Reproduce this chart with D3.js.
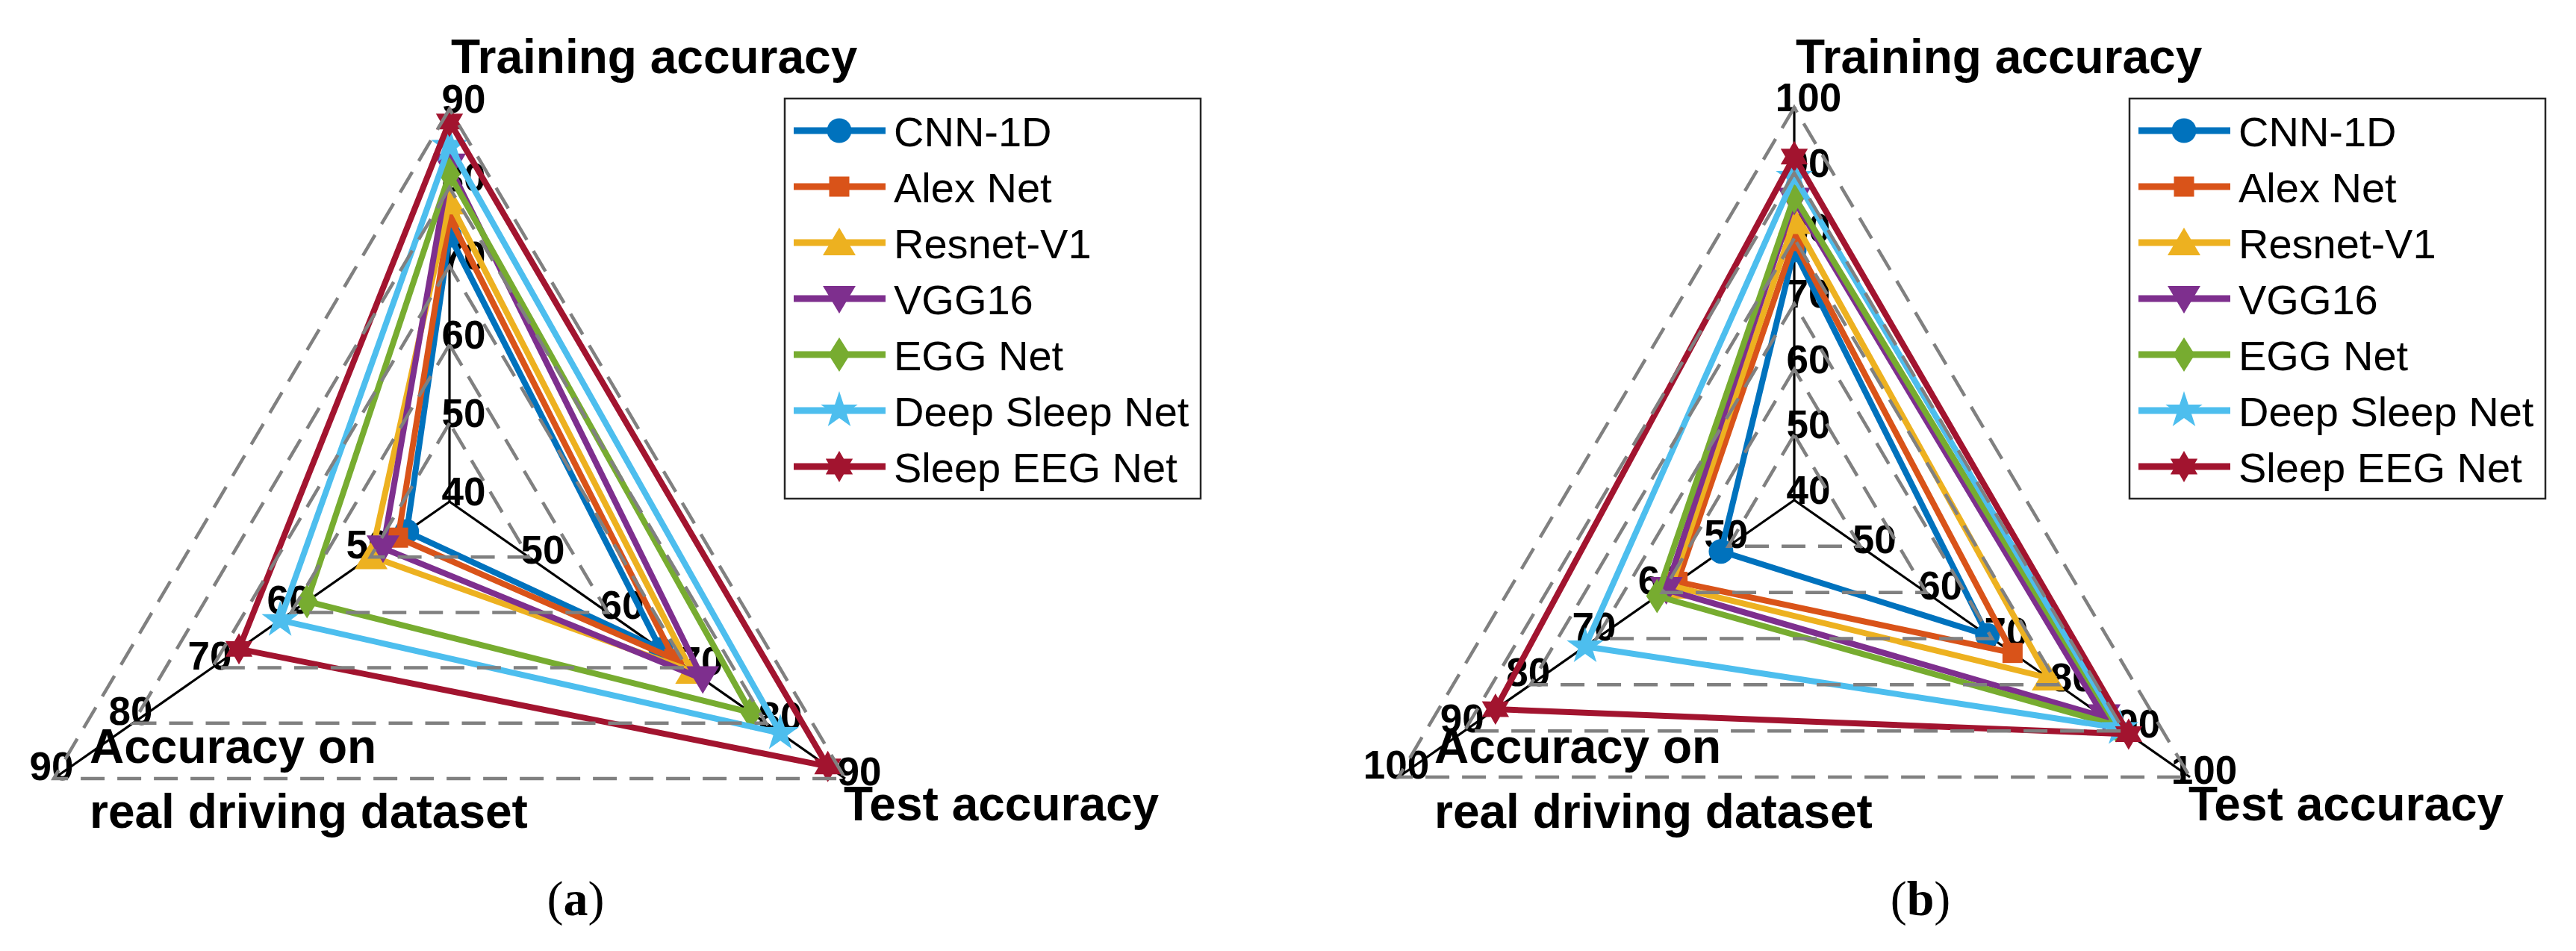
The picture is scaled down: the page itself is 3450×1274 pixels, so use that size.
<!DOCTYPE html>
<html>
<head>
<meta charset="utf-8">
<title>Accuracy radar charts</title>
<script src="https://cdn.jsdelivr.net/npm/d3@7"></script>
<style>
body { margin: 0; background: white; }
svg { display: block; }
.tick { font-family: "Liberation Sans", Arial, sans-serif; font-weight: bold; font-size: 53px; fill: black; }
.title { font-family: "Liberation Sans", Arial, sans-serif; font-weight: bold; font-size: 64px; fill: black; }
.legend text { font-family: "Liberation Sans", Arial, sans-serif; font-size: 56px; fill: black; }
.caption { font-family: "Liberation Serif", "Times New Roman", serif; font-size: 66px; fill: black; }
</style>
</head>
<body>
<div id="chart"></div>
<script>
// data
var models = ["CNN-1D", "Alex Net", "Resnet-V1", "VGG16", "EGG Net", "Deep Sleep Net", "Sleep EEG Net"];
var colors = ["#0072BD", "#D95319", "#EDB120", "#7E2F8E", "#77AC30", "#4DBEEE", "#A2142F"];
var markers = ["circle", "square", "triangle", "triangleDown", "diamond", "star", "hexagram"];

// per model: [training, real driving, test]
var valuesA = [
    [73.9, 45.4, 66.7],
    [76.2, 46.5, 68.4],
    [78.2, 49.9, 70.6],
    [82.7, 48.4, 72.0],
    [81.7, 58.0, 78.1],
    [85.3, 61.4, 81.8],
    [88.4, 66.6, 87.8]
];
var valuesB = [
    [78.2, 51.1, 69.3],
    [79.6, 57.7, 73.1],
    [82.6, 58.6, 78.5],
    [85.8, 59.4, 87.0],
    [86.4, 60.8, 88.8],
    [89.4, 71.7, 89.4],
    [92.5, 85.3, 90.7]
];
var ticksA = [40, 50, 60, 70, 80, 90];
var ticksB = [40, 50, 60, 70, 80, 90, 100];
var captions = ["a", "b"];

var width = 3450, height = 1274;

// axis end points relative to the centre (top, bottom left, bottom right)
var axisEnds = [[0, -526], [-530, 371], [530, 371]];
// where the tick label sits relative to its point, per axis
var tickShift = [[19, 5], [-3, 2], [19, 9]];

var panels = [
    { cx: 602, cy: 672, values: valuesA, ticks: ticksA, caption: captions[0] },
    { cx: 2403, cy: 670, values: valuesB, ticks: ticksB, caption: captions[1] }
];

// marker shapes, fixed pixel sizes
function poly(ctx, pts) {
    ctx.moveTo(pts[0][0], pts[0][1]);
    for (var i = 1; i < pts.length; i++) ctx.lineTo(pts[i][0], pts[i][1]);
    ctx.closePath();
}
function starPts(n, R, r) {
    var pts = [];
    for (var i = 0; i < 2 * n; i++) {
        var a = -Math.PI / 2 + i * Math.PI / n, rr = i % 2 ? r : R;
        pts.push([rr * Math.cos(a), rr * Math.sin(a)]);
    }
    return pts;
}
var shapes = {
    circle: { draw: function(ctx) { ctx.moveTo(16.5, 0); ctx.arc(0, 0, 16.5, 0, 2 * Math.PI); } },
    square: { draw: function(ctx) { poly(ctx, [[-13.5, -13.5], [13.5, -13.5], [13.5, 13.5], [-13.5, 13.5]]); } },
    triangle: { draw: function(ctx) { poly(ctx, [[0, -20], [22, 17], [-22, 17]]); } },
    triangleDown: { draw: function(ctx) { poly(ctx, [[0, 20], [22, -17], [-22, -17]]); } },
    diamond: { draw: function(ctx) { poly(ctx, [[0, -23], [14.5, 0], [0, 23], [-14.5, 0]]); } },
    star: { draw: function(ctx) { poly(ctx, starPts(5, 26, 10)); } },
    hexagram: { draw: function(ctx) { poly(ctx, starPts(6, 21, 12.1)); } }
};
function markerPath(name) { return d3.symbol().type(shapes[name])(); }

var svg = d3.select("#chart").append("svg")
    .attr("width", width).attr("height", height)
    .attr("viewBox", "0 0 " + width + " " + height);
svg.append("rect").attr("width", width).attr("height", height).attr("fill", "white");

panels.forEach(function(p) {
    var lo = p.ticks[0], hi = p.ticks[p.ticks.length - 1];
    var r = d3.scaleLinear().domain([lo, hi]).range([0, 1]);
    function pt(axis, v) {
        return [p.cx + axisEnds[axis][0] * r(v), p.cy + axisEnds[axis][1] * r(v)];
    }
    var g = svg.append("g");

    // tick labels (under everything else)
    var tg = g.append("g");
    [0, 1, 2].forEach(function(axis) {
        var tv = axis === 0 ? p.ticks : p.ticks.slice(1);
        tg.selectAll(null).data(tv).enter().append("text")
            .attr("class", "tick")
            .attr("text-anchor", "middle")
            .attr("x", function(d) { return pt(axis, d)[0] + tickShift[axis][0]; })
            .attr("y", function(d) { return pt(axis, d)[1] + tickShift[axis][1]; })
            .text(function(d) { return d; });
    });

    // black axis spokes
    g.append("g").selectAll("line").data([0, 1, 2]).enter().append("line")
        .attr("x1", p.cx).attr("y1", p.cy)
        .attr("x2", function(a) { return pt(a, hi)[0]; })
        .attr("y2", function(a) { return pt(a, hi)[1]; })
        .attr("stroke", "black").attr("stroke-width", 3.2);

    // series
    var line = d3.line().curve(d3.curveLinearClosed);
    var sg = g.append("g").selectAll("g").data(p.values).enter().append("g");
    sg.append("path")
        .attr("d", function(vals) { return line(vals.map(function(v, a) { return pt(a, v); })); })
        .attr("fill", "none")
        .attr("stroke", function(d, i) { return colors[i]; })
        .attr("stroke-width", 8);
    sg.each(function(vals, i) {
        d3.select(this).selectAll("path.m").data(vals).enter().append("path")
            .attr("class", "m")
            .attr("d", markerPath(markers[i]))
            .attr("transform", function(v, a) { return "translate(" + pt(a, v) + ")"; })
            .attr("fill", colors[i]);
    });

    // dashed web, one triangle per level
    g.append("g").selectAll("path").data(p.ticks.slice(1)).enter().append("path")
        .attr("d", function(v) { return line([pt(0, v), pt(1, v), pt(2, v)]); })
        .attr("fill", "none")
        .attr("stroke", "#808080").attr("stroke-width", 4.5)
        .attr("stroke-dasharray", "32,17");

    // axis titles
    g.append("text").attr("class", "title").attr("x", p.cx + 2).attr("y", 98).text("Training accuracy");
    g.append("text").attr("class", "title").attr("x", p.cx - 482).attr("y", 1022).text("Accuracy on");
    g.append("text").attr("class", "title").attr("x", p.cx - 482).attr("y", 1109).text("real driving dataset");
    g.append("text").attr("class", "title").attr("x", p.cx + 528).attr("y", 1099).text("Test accuracy");

    // legend
    var lx = p.cx + 449, ly = 132;
    var lg = g.append("g").attr("class", "legend");
    lg.append("rect").attr("x", lx).attr("y", ly).attr("width", 557).attr("height", 536)
        .attr("fill", "white").attr("stroke", "#262626").attr("stroke-width", 2.5);
    var row = lg.selectAll("g").data(models).enter().append("g")
        .attr("transform", function(d, i) { return "translate(" + lx + "," + (175 + 75 * i) + ")"; });
    row.append("line").attr("x1", 12).attr("x2", 135).attr("y1", 0).attr("y2", 0)
        .attr("stroke", function(d, i) { return colors[i]; }).attr("stroke-width", 9);
    row.append("path").attr("transform", "translate(73,0)")
        .attr("d", function(d, i) { return markerPath(markers[i]); })
        .attr("fill", function(d, i) { return colors[i]; });
    row.append("text").attr("x", 146).attr("y", 21).text(function(d) { return d; });

    // caption
    var cap = g.append("text").attr("class", "caption").attr("text-anchor", "middle")
        .attr("x", p.cx + 169).attr("y", 1226);
    cap.append("tspan").text("(");
    cap.append("tspan").attr("font-weight", "bold").text(p.caption);
    cap.append("tspan").text(")");
});
</script>
</body>
</html>
